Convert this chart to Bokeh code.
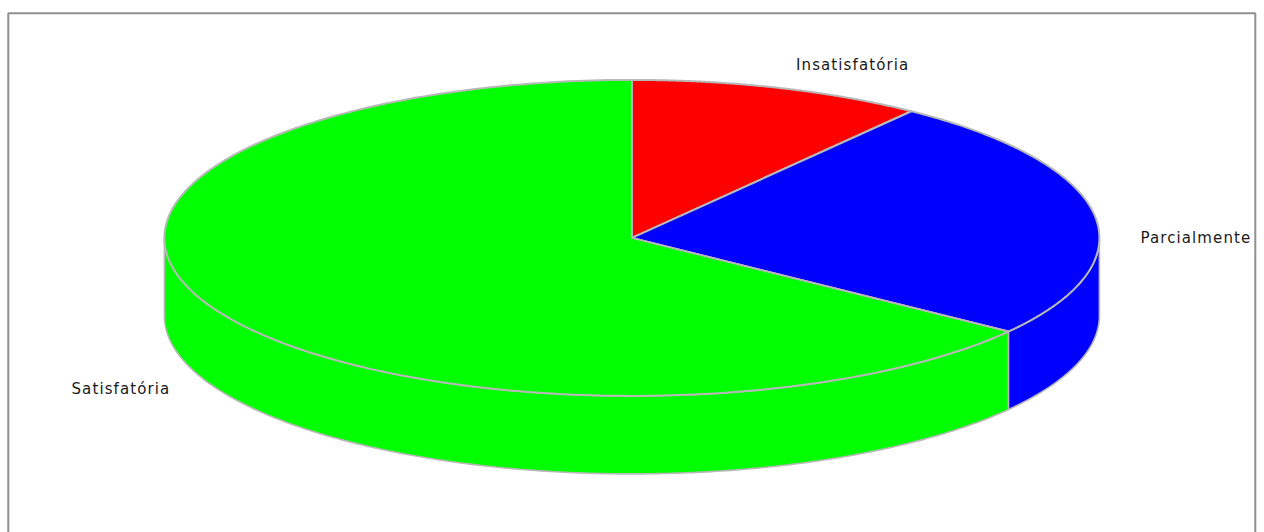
import numpy as np
from bokeh.plotting import figure
from bokeh.embed import file_html
from bokeh.resources import INLINE
from bokeh.core.properties import value
from bokeh.models import Range1d

categories = ["Insatisfatória", "Parcialmente", "Satisfatória"]
shares = [10.2, 24.9, 64.9]
colors = ["#ff0000", "#0000ff", "#00ff00"]

# layout, in page pixels
CX, CY, RX, RY, DEPTH = 631.4, 237.4, 467.5, 158.0, 78.0
EDGE = "#b8b8b8"
label_left = [795.5, 1140, 71]
label_mid = [64, 237.5, 388.5]

W, H = 1264, 532
p = figure(width=W, height=H, output_backend="svg", toolbar_location=None,
           x_range=Range1d(0, W), y_range=Range1d(H, 0),
           min_border=0, outline_line_color=None)
p.styles = {"letter-spacing": "1.1px"}
p.axis.visible = False
p.grid.visible = False

# frame of the plot (runs off the bottom of the window)
p.line([7.8, 7.8, 1254.8, 1254.8], [540, 12.8, 12.8, 540], line_color="#909090", line_width=2)


def arc(a0, a1, dy=0.0, n=240):
    t = np.radians(np.linspace(a0, a1, n))
    return CX + RX * np.cos(t), CY + dy - RY * np.sin(t)


ends = 90 - 360 * np.cumsum(shares) / np.sum(shares)
starts = np.concatenate([[90.0], ends[:-1]])

# side walls: only the part of each slice on the near half of the ellipse
for a0, a1, col in zip(starts, ends, colors):
    lo, hi = max(a1, -180.0), min(a0, 0.0)
    if hi <= lo:
        continue
    x0, y0 = arc(hi, lo)
    x1, y1 = arc(lo, hi, DEPTH)
    p.patch(np.r_[x0, x1], np.r_[y0, y1], fill_color=col, line_color=EDGE, line_width=1.6, line_join="round")

# top faces
for a0, a1, col in zip(starts, ends, colors):
    x, y = arc(a0, a1)
    p.patch(np.r_[CX, x], np.r_[CY, y], fill_color=col, line_color=EDGE, line_width=2, line_join="round")

p.text(label_left, label_mid, text=categories, text_font=value("DejaVu Sans"),
       text_font_size="15px", text_color="#1a1a1a",
       text_align="left", text_baseline="middle")

open("out.html", "w").write(file_html(p, INLINE))
